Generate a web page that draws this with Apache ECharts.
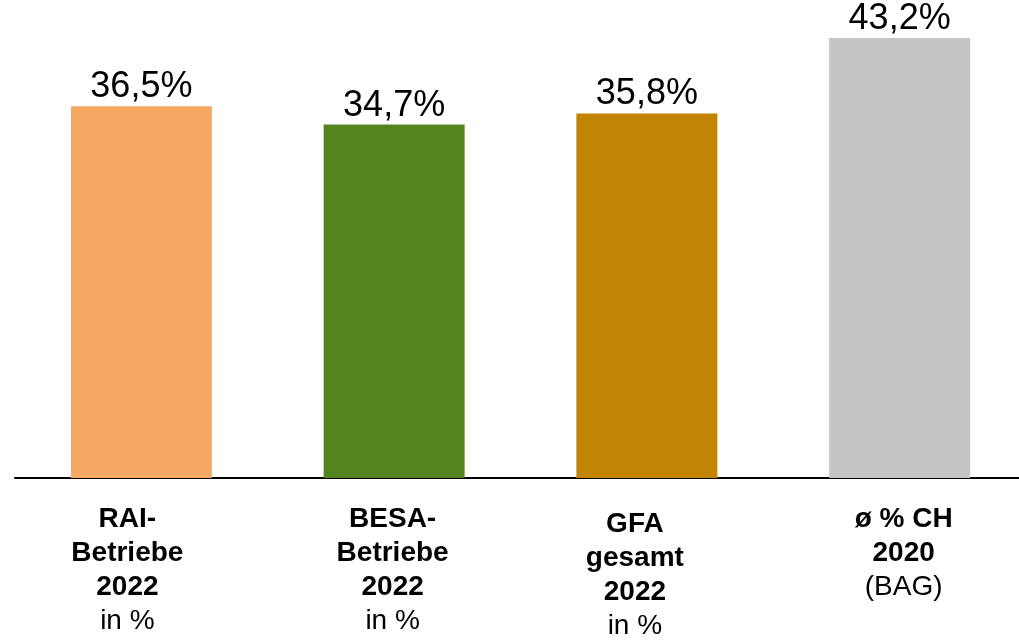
<!DOCTYPE html>
<html>
<head>
<meta charset="utf-8">
<style>
  html, body { margin: 0; padding: 0; background: #fff; overflow: hidden; }
  #chart { width: 1026px; height: 640px; }
</style>
<script src="https://cdn.jsdelivr.net/npm/echarts@6/dist/echarts.min.js"></script>
</head>
<body>
<div id="chart"></div>
<script>
// Category label lines: [bold lines, plain line]
const categories = [
  { bold: ['RAI-', 'Betriebe', '2022'], plain: 'in %' },
  { bold: ['BESA-', 'Betriebe', '2022'], plain: 'in %' },
  { bold: ['GFA', 'gesamt', '2022'], plain: 'in %' },
  { bold: ['ø % CH', '2020'], plain: '(BAG)' }
];
const shares = [36.5, 34.7, 35.8, 43.2];
const barColors = ['#F5A962', '#55841F', '#C18503', '#C4C5C4'];
// horizontal nudges of the text blocks under each bar (padding: [top, right, bottom, left])
const labelPadding = [[0, 28, 0, 0], [0, 3, 0, 0], [5, 24, 0, 0], [0, 0, 0, 8]];

const FONT = 'Liberation Sans';

// the canvas runs slightly past the right window edge so the baseline reaches it
const chart = echarts.init(document.getElementById('chart'));
chart.setOption({
  animation: false,
  backgroundColor: '#ffffff',
  grid: { left: 15, right: 0, top: 9.5, bottom: 159, containLabel: false },
  xAxis: {
    type: 'category',
    data: categories.map((c, i) => ({
      value: c.bold.map(s => '{b|' + s + '}').join('\n') + '\n{n|' + c.plain + '}',
      textStyle: { padding: labelPadding[i] }
    })),
    axisLine: { lineStyle: { color: '#000', width: 2 } },
    axisTick: { show: false },
    axisLabel: {
      interval: 0,
      margin: 24,
      fontFamily: FONT,
      color: '#000',
      rich: {
        b: { fontFamily: FONT, fontSize: 28, fontWeight: 'bold', lineHeight: 34, color: '#000' },
        n: { fontFamily: FONT, fontSize: 28, lineHeight: 34, color: '#000' }
      }
    }
  },
  yAxis: {
    type: 'value',
    min: 0,
    max: 46,
    show: false,
    splitLine: { show: false }
  },
  series: [{
    type: 'bar',
    barWidth: 141,
    data: shares.map((v, i) => ({ value: v, itemStyle: { color: barColors[i] } })),
    label: {
      show: true,
      position: 'top',
      distance: 1,
      fontFamily: FONT,
      fontSize: 36,
      color: '#000',
      formatter: p => p.value.toFixed(1).replace('.', ',') + '%'
    }
  }]
});
</script>
</body>
</html>
